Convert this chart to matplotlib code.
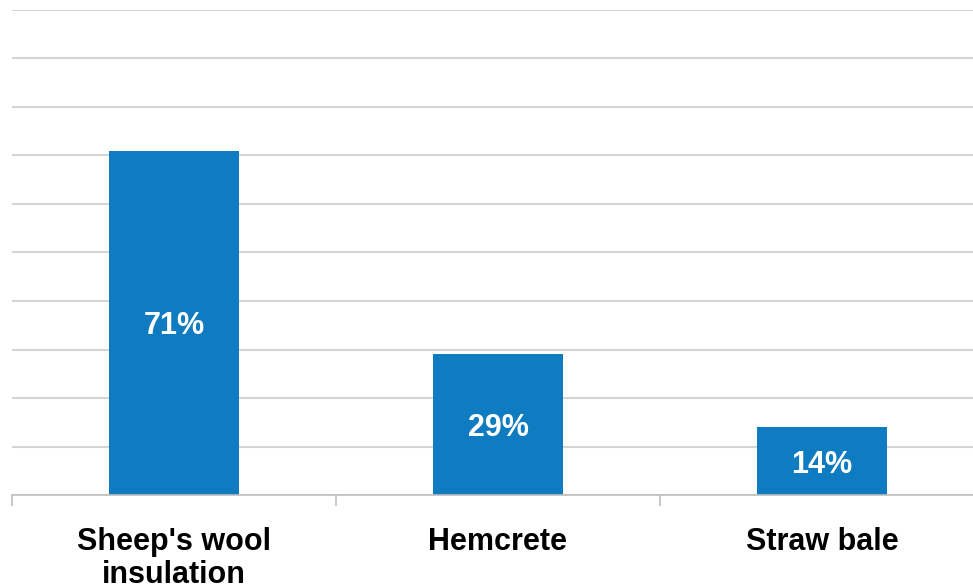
import matplotlib
matplotlib.use("Agg")
import matplotlib.pyplot as plt

categories = ["Sheep's wool\ninsulation", "Hemcrete", "Straw bale"]
values = [71, 29, 14]
labels = ["71%", "29%", "14%"]

plt.rcParams["font.family"] = ["Liberation Sans", "DejaVu Sans"]

fig = plt.figure(figsize=(9.73, 5.88), dpi=100)
ax = fig.add_axes([12 / 973, 1 - 495 / 588, 972 / 973, 485 / 588])

x = range(len(categories))
bars = ax.bar(x, values, width=0.4, color="#0F7BC0", zorder=3)

ax.set_xlim(-0.5, len(categories) - 0.5)
ax.set_ylim(0, 100)
ax.set_yticks(range(0, 101, 10))
ax.yaxis.grid(True, color="#d4d4d4", lw=1.5, zorder=0)
ax.tick_params(axis="y", length=0, labelleft=False)

# category boundaries as tick marks below the baseline
ax.set_xticks([-0.5, 0.5, 1.5, 2.5])
ax.set_xticklabels([])
ax.tick_params(axis="x", length=8, color="#bfbfbf", width=1.2, direction="out")
for i, c in enumerate(categories):
    ax.text(i, -6.5, c, ha="center", va="top", fontsize=22, fontweight="bold",
            linespacing=1.15)

for s in ["top", "right", "left"]:
    ax.spines[s].set_visible(False)
ax.spines["bottom"].set_color("#bfbfbf")
ax.spines["bottom"].set_linewidth(1.2)
ax.spines["bottom"].set_zorder(4)

for b, lbl in zip(bars, labels):
    ax.text(b.get_x() + b.get_width() / 2, b.get_height() / 2, lbl,
            ha="center", va="center_baseline", color="white", fontsize=22,
            fontweight="bold", zorder=5)

fig.savefig("out.png", dpi=100)
